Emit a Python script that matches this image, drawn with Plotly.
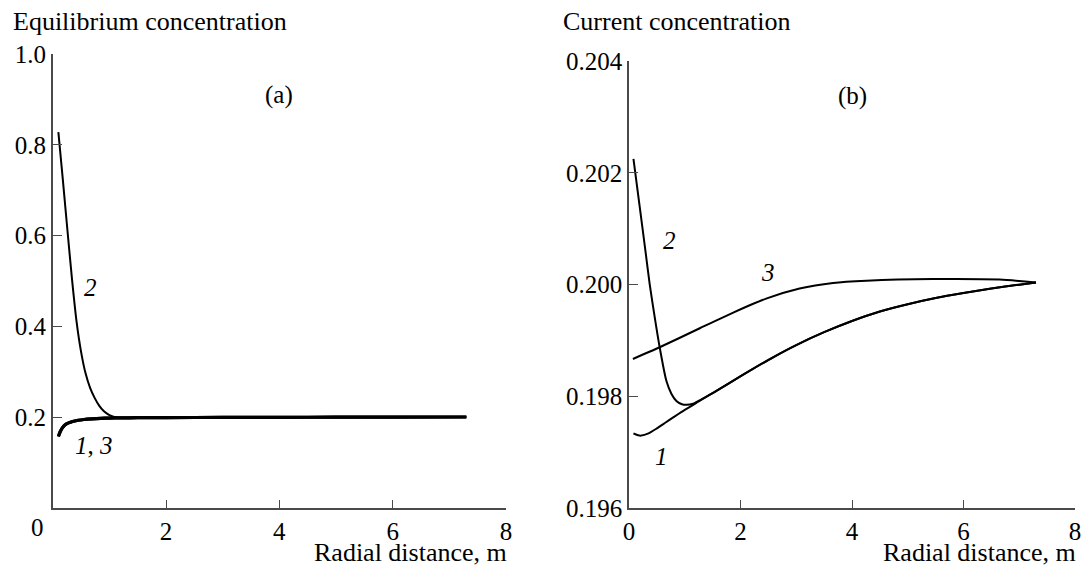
import plotly.graph_objects as go

# ---- data: panel (a), equilibrium concentration ----
r_eq13 = [0.10, 0.13, 0.17, 0.22, 0.28, 0.35, 0.45, 0.55, 0.70, 0.85, 1.0, 1.2, 1.5, 2.0, 3.0, 4.0, 5.0, 6.0, 7.3]
c_eq13 = [0.158, 0.168, 0.177, 0.184, 0.188, 0.1912, 0.1938, 0.1955, 0.1970, 0.1980, 0.1986, 0.1990, 0.1994, 0.1997, 0.2000, 0.2003, 0.2006, 0.2008, 0.2010]

r_eq2 = [0.10, 0.18, 0.26, 0.34, 0.42, 0.50, 0.58, 0.66, 0.74, 0.82, 0.90, 1.00, 1.10, 1.20, 1.5, 2.0, 3.0, 4.0, 5.0, 6.0, 7.3]
c_eq2 = [0.828, 0.722, 0.612, 0.505, 0.412, 0.345, 0.297, 0.265, 0.243, 0.226, 0.214, 0.205, 0.2005, 0.1990, 0.1994, 0.1997, 0.2000, 0.2003, 0.2006, 0.2008, 0.2010]

# ---- data: panel (b), current concentration ----
r_cur1 = [0.08, 0.15, 0.22, 0.35, 0.50, 0.65, 0.80, 1.00, 1.25, 1.50, 1.85, 2.20, 2.60, 3.00, 3.50, 4.00, 4.50,
          5.00, 5.50, 6.00, 6.50, 7.00, 7.30]
c_cur1 = [0.19734, 0.19731, 0.19730, 0.19734, 0.19743, 0.19753, 0.19763, 0.19776, 0.19791, 0.19806, 0.19827,
          0.19848, 0.19871, 0.19892, 0.19915, 0.19935, 0.19952, 0.19965, 0.19976, 0.19985, 0.19993, 0.20000, 0.20004]

r_cur2 = [0.08, 0.19, 0.294, 0.371, 0.461, 0.55, 0.67, 0.76, 0.85, 0.95, 1.03, 1.15, 1.30, 1.50, 1.85, 2.20, 2.60,
          3.00, 3.50, 4.00, 4.50, 5.00, 5.50, 6.00, 6.50, 7.00, 7.30]
c_cur2 = [0.20225, 0.20141, 0.20061, 0.20001, 0.19942, 0.19888, 0.19828, 0.19805, 0.19792, 0.19786, 0.19785,
          0.19787, 0.19795, 0.19806, 0.19827, 0.19848, 0.19871, 0.19892, 0.19915, 0.19935, 0.19952, 0.19965,
          0.19976, 0.19985, 0.19993, 0.20000, 0.20004]

r_cur3 = [0.07, 0.55, 1.27, 1.87, 2.46, 3.06, 3.66, 4.26, 5.45, 6.65, 7.30]
c_cur3 = [0.19867, 0.19888, 0.19922, 0.19950, 0.19975, 0.19993, 0.20003, 0.20007, 0.20010, 0.20009, 0.20004]

x_ticks = [0, 2, 4, 6, 8]
y_ticks_a = [0.2, 0.4, 0.6, 0.8, 1.0]
y_ticks_b = [0.196, 0.198, 0.200, 0.202, 0.204]

FONT = "'Liberation Serif', 'Times New Roman', Times, serif"
AXIS = "#4a4a4a"
W, H = 1085, 570

fig = go.Figure()

line = dict(color="black", width=2, shape="spline", smoothing=0.6)
fig.add_trace(go.Scatter(x=r_eq13, y=c_eq13, mode="lines", line=dict(line, width=3.2), xaxis="x", yaxis="y", name="1"))
fig.add_trace(go.Scatter(x=r_eq13, y=c_eq13, mode="lines", line=dict(line, width=3.2), xaxis="x", yaxis="y", name="3"))
fig.add_trace(go.Scatter(x=r_eq2, y=c_eq2, mode="lines", line=line, xaxis="x", yaxis="y", name="2"))

fig.add_trace(go.Scatter(x=r_cur1, y=c_cur1, mode="lines", line=line, xaxis="x2", yaxis="y2", name="1"))
fig.add_trace(go.Scatter(x=r_cur2, y=c_cur2, mode="lines", line=line, xaxis="x2", yaxis="y2", name="2"))
fig.add_trace(go.Scatter(x=r_cur3, y=c_cur3, mode="lines", line=line, xaxis="x2", yaxis="y2", name="3"))


def px_x(p):
    return p / W


def px_y(p):
    return 1 - p / H


axis_common = dict(showgrid=False, zeroline=False, showline=True, linecolor=AXIS, linewidth=1.6,
                   ticks="inside", ticklen=9, tickwidth=1.4, tickcolor=AXIS, automargin=False,
                   tickfont=dict(family=FONT, size=25, color="black"))

fig.update_layout(
    width=W, height=H, margin=dict(l=0, r=0, t=0, b=0, autoexpand=False),
    paper_bgcolor="white", plot_bgcolor="white", showlegend=False,
    font=dict(family=FONT, color="black"),
    xaxis=dict(axis_common, domain=[px_x(52.7), px_x(506)], range=[0, 8], tickvals=x_ticks[1:],
               anchor="y"),
    yaxis=dict(axis_common, domain=[px_y(508.3), px_y(54)], range=[0, 1.0], tickvals=y_ticks_a,
               ticktext=[f"{v:.1f}" for v in y_ticks_a], anchor="x"),
    xaxis2=dict(axis_common, domain=[px_x(629), px_x(1075)], range=[0, 8], tickvals=x_ticks,
                anchor="y2"),
    yaxis2=dict(axis_common, domain=[px_y(508.3), px_y(61)], range=[0.196, 0.204], tickvals=y_ticks_b,
                ticktext=[f"{v:.3f}" for v in y_ticks_b], anchor="x2"),
)

ann = []
txt = dict(family=FONT, size=26, color="black")
ann.append(dict(text="Equilibrium concentration", xref="paper", yref="paper", x=px_x(11), y=px_y(21.7),
                xanchor="left", yanchor="middle", showarrow=False, font=txt))
ann.append(dict(text="Current concentration", xref="paper", yref="paper", x=px_x(561), y=px_y(21.7),
                xanchor="left", yanchor="middle", showarrow=False, font=txt))
for right in (509, 1078):
    ann.append(dict(text="Radial distance, m", xref="paper", yref="paper", x=px_x(right), y=px_y(552.5),
                    xanchor="right", yanchor="middle", showarrow=False, font=txt))
ann.append(dict(text="0", xref="paper", yref="paper", x=px_x(37.3), y=px_y(527.3),
                xanchor="center", yanchor="middle", showarrow=False, font=dict(family=FONT, size=25)))
ann.append(dict(text="(a)", xref="x", yref="y", x=4.0, y=0.91, showarrow=False,
                font=dict(family=FONT, size=25)))
ann.append(dict(text="(b)", xref="x2", yref="y2", x=4.0, y=0.20338, showarrow=False,
                font=dict(family=FONT, size=25)))
ital = dict(family=FONT, size=25, color="black")
for t, xr, yr, x, y in [("<i>2</i>", "x", "y", 0.67, 0.485), ("<i>1</i>, <i>3</i>", "x", "y", 0.73, 0.139),
                        ("<i>2</i>", "x2", "y2", 0.72, 0.20079), ("<i>3</i>", "x2", "y2", 2.50, 0.20021),
                        ("<i>1</i>", "x2", "y2", 0.59, 0.19692)]:
    ann.append(dict(text=t, xref=xr, yref=yr, x=x, y=y, showarrow=False, font=ital))
fig.update_layout(annotations=ann)

fig.write_html("out.html")
